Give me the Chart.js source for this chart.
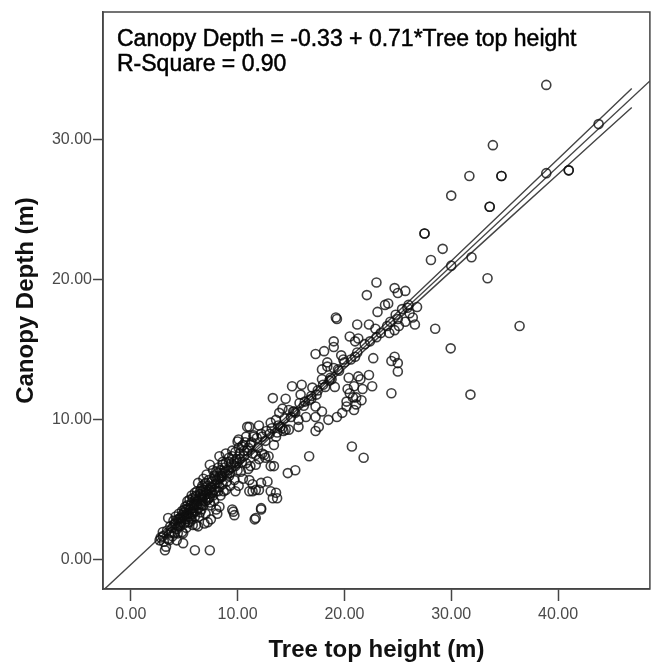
<!DOCTYPE html>
<html>
<head>
<meta charset="utf-8">
<script src="https://cdn.jsdelivr.net/npm/chart.js@4.4.1/dist/chart.umd.min.js"></script>
<style>
  html, body { margin: 0; padding: 0; background: #fff; overflow: hidden; }
  #wrap { width: 656px; height: 668px; position: relative; }
</style>
</head>
<body>
<div id="wrap"><canvas id="myChart"></canvas></div>
<script>
// tree top height (m), one entry per tree
const treeTopHeight = [
  2.7, 2.8, 3.0, 3.0, 3.2, 3.3, 3.1, 3.4, 3.5, 3.6,
  3.6, 3.7, 3.8, 3.9, 3.9, 4.0, 4.1, 4.1, 4.2, 4.3,
  4.3, 4.4, 4.4, 4.5, 4.5, 4.6, 4.6, 4.7, 4.8, 4.8,
  4.9, 4.9, 4.9, 5.0, 5.0, 3.5,
  5.1, 5.1, 5.2, 5.2, 5.3, 5.3, 5.4, 5.4, 5.5, 5.5,
  5.5, 5.6, 5.6, 5.7, 5.7, 5.8, 5.8, 5.9, 5.9, 6.0,
  6.0, 6.0, 6.1, 6.1, 6.1, 6.2, 6.2, 6.3, 6.3, 6.4,
  6.4, 6.5, 6.5, 6.6, 6.6, 6.7, 6.7, 6.8, 6.8, 6.9,
  6.9, 7.0, 7.0, 7.0,
  7.1, 7.1, 7.2, 7.2, 7.3, 7.4, 7.4, 7.4, 7.5, 7.5,
  7.5, 7.6, 7.6, 7.7, 7.8, 7.8, 7.9, 8.0, 8.0, 8.0,
  8.1, 8.1, 8.2, 8.3, 8.3, 8.3, 8.4, 8.5, 8.6, 8.6,
  8.6, 8.7, 8.8, 8.9, 8.9, 9.0, 9.0,
  9.2, 9.2, 9.3, 9.4, 9.5, 9.5, 9.6, 9.7, 9.7, 9.8,
  9.8, 9.9, 10.0, 10.0, 10.1, 10.1, 10.2, 10.3, 10.4, 10.5,
  10.5, 10.6, 10.8, 10.8, 10.9, 10.9, 11.0, 11.1, 11.1, 11.1,
  11.2, 11.2, 11.4, 11.4, 11.4, 11.5, 11.5, 11.6, 11.7, 11.7,
  11.7, 11.7, 11.9, 12.0, 12.0, 12.0, 12.2, 12.2, 12.2, 12.3,
  12.3, 12.5, 12.6, 12.6, 12.8, 12.9, 13.0, 13.1, 13.1, 13.1,
  13.2, 13.3, 13.3, 13.4, 13.4, 13.6, 13.6, 13.6, 13.7, 13.7,
  13.9, 14.0, 14.2, 14.2, 14.3, 14.5, 14.5, 14.7, 14.8, 14.8,
  15.0,
  15.1, 15.2, 15.4, 15.4, 15.7, 15.7, 15.9, 16.0, 16.2, 16.4,
  16.7, 16.7, 16.9, 17.0,
  17.3, 17.3, 17.3, 17.3, 17.4, 17.6, 17.9, 17.9, 17.9, 18.1,
  18.2, 18.4, 18.4, 18.5, 18.6, 18.8, 19.0, 19.0, 19.0, 19.1,
  19.2, 19.3, 19.3, 19.5, 19.7, 19.8, 19.9, 20.2, 20.3, 20.4,
  20.5, 20.5, 20.7, 20.8, 20.9, 20.9, 21.0, 21.0,
  21.2, 21.3, 21.3, 21.5, 21.6, 21.7, 21.8, 22.1, 22.3, 22.3,
  22.6, 22.7, 22.9,
  23.0, 23.0, 23.1, 23.8, 24.0, 24.1, 24.2, 24.4, 24.4, 24.7,
  24.7, 24.7, 25.0, 25.0, 25.0, 25.0, 25.1, 25.7, 25.7, 25.9,
  26.1, 26.4, 26.6, 26.8, 27.5, 27.5, 28.1, 28.5, 29.2, 29.95,
  30.0, 30.0, 31.7, 31.8, 31.9, 33.4, 33.6, 33.6, 33.9, 34.7,
  34.7, 36.4, 38.9, 38.9, 41.0, 41.0, 43.8,
  5.2, 5.6, 5.9, 6.2, 6.4, 6.6, 6.9, 7.1, 7.3, 7.6,
  7.9, 8.2, 8.5, 8.8, 9.1, 9.4, 9.7, 10.2, 10.6, 11.0,
  11.3, 11.8, 12.2, 12.7, 4.2, 4.7, 5.0, 5.4, 5.8, 6.1,
  6.3, 6.8, 7.2, 7.7, 8.0, 8.4, 9.3, 9.9, 6.5, 5.7,
  15.3, 15.8, 16.3, 16.9, 17.5, 18.0, 18.7, 19.4, 20.0, 20.6,
  21.2, 21.9, 22.4, 23.4, 24.3, 24.8, 25.4, 26.0, 13.8, 14.4,
  21.1, 20.2, 21.1,
  4.4, 4.6, 4.8, 5.0, 5.3, 5.5, 5.7, 6.0, 6.2, 6.5,
  6.7, 7.0, 7.3, 7.5, 7.8, 8.1, 8.3, 8.6, 8.9, 9.2,
  9.5, 9.8, 10.1, 10.4, 10.7, 5.1, 5.9, 6.6, 7.4, 8.2
];

// canopy depth (m), same order as treeTopHeight
const canopyDepth = [
  1.4, 1.6, 1.7, 2.0, 0.7, 0.95, 1.3, 2.1, 1.5, 1.9,
  1.4, 2.4, 2.0, 2.3, 1.7, 2.8, 2.6, 1.9, 3.1, 1.4,
  2.2, 1.9, 2.4, 2.9, 3.3, 2.4, 3.0, 2.7, 3.5, 2.0,
  1.2, 1.9, 3.1, 2.6, 3.4, 3.0,
  2.9, 3.8, 3.6, 2.3, 3.1, 4.2, 3.3, 2.7, 4.3, 3.6,
  2.7, 3.0, 3.9, 4.6, 3.4, 3.3, 2.5, 4.0, 3.7, 0.7,
  4.8, 3.1, 4.5, 3.5, 2.5, 4.2, 3.9, 5.5, 2.4, 3.1,
  4.4, 4.0, 4.9, 3.6, 5.1, 4.3, 4.6, 3.9, 5.8, 5.4,
  2.6, 4.2, 3.3, 5.0,
  4.7, 6.1, 2.7, 5.3, 4.4, 0.7, 4.5, 6.8, 5.2, 2.9,
  3.9, 5.6, 4.8, 6.4, 5.0, 4.2, 5.9, 3.6, 6.3, 4.9,
  3.3, 5.5, 6.6, 7.4, 5.2, 3.8, 4.6, 6.0, 7.0, 6.2,
  5.4, 4.9, 6.6, 5.0, 7.6, 6.1, 5.6,
  7.0, 6.0, 5.3, 6.6, 3.6, 7.8, 3.45, 3.2, 5.7, 6.7,
  4.9, 7.2, 8.45, 6.4, 8.6, 5.3, 7.6, 6.3, 7.0, 8.2,
  5.8, 7.4, 8.8, 6.9, 9.5, 7.8, 6.5, 5.7, 4.9, 9.5,
  6.7, 8.2, 5.4, 4.9, 7.6, 8.9, 8.8, 2.9, 3.0, 5.0,
  6.8, 7.5, 8.0, 9.6, 5.0, 7.2, 3.7, 5.5, 3.6, 8.8,
  7.6, 7.5, 7.3, 8.5, 5.6, 7.4, 9.0, 9.8, 6.7, 4.9,
  9.4, 11.55, 4.4, 8.2, 6.7, 4.8, 8.8, 10.0, 4.4, 9.1,
  10.5, 9.5, 10.8, 9.4, 9.2, 11.5, 9.3, 6.2, 9.3, 10.7,
  10.2,
  12.4, 10.6, 6.4, 10.5, 10.0, 9.5, 11.8, 12.5, 11.0, 10.2,
  11.4, 7.4, 11.7, 12.3,
  14.7, 10.95, 10.2, 9.2, 11.8, 9.5, 13.6, 12.9, 10.6, 14.9,
  12.35, 14.1, 13.8, 10.0, 12.8, 12.9, 15.6, 15.2, 13.7, 12.35,
  17.3, 17.2, 10.2, 13.5, 14.6, 10.5, 14.3, 10.95, 12.2, 13.0,
  15.95, 11.9, 8.1, 11.6, 12.4, 10.7, 15.6, 14.5,
  16.8, 15.8, 13.1, 12.9, 11.4, 12.2, 7.3, 18.9, 16.8, 13.2,
  12.4, 14.4, 16.5,
  19.8, 15.9, 17.7, 18.2, 16.7, 18.3, 16.2, 14.2, 11.9, 19.4,
  14.5, 16.4, 19.05, 17.2, 14.05, 13.45, 16.7, 19.2, 17.0, 18.0,
  17.6, 17.3, 16.8, 18.05, 23.3, 23.3, 21.4, 16.5, 22.2, 15.1,
  26.0, 21.0, 27.4, 11.8, 21.6, 20.1, 25.2, 25.2, 29.6, 27.4,
  27.4, 16.7, 27.6, 33.9, 27.8, 27.8, 31.1,
  3.3, 3.6, 3.9, 4.0, 4.2, 4.4, 4.6, 4.9, 5.0, 5.2,
  5.4, 5.8, 5.9, 6.3, 6.4, 6.9, 7.0, 7.2, 7.8, 8.0,
  8.4, 8.7, 9.0, 9.2, 2.6, 3.0, 3.0, 3.7, 4.4, 4.6,
  3.7, 5.0, 4.3, 4.6, 5.7, 6.4, 6.2, 6.9, 3.4, 2.9,
  10.6, 11.2, 11.3, 11.5, 12.1, 12.5, 13.0, 13.6, 14.1, 14.3,
  14.8, 15.4, 15.6, 16.2, 17.0, 17.5, 17.9, 18.2, 9.6, 10.1,
  11.6, 11.3, 11.1,
  2.9, 2.6, 3.2, 3.6, 3.9, 3.1, 4.1, 4.3, 4.9, 4.7,
  5.3, 5.5, 5.7, 4.9, 6.0, 6.2, 5.9, 6.8, 6.9, 7.3,
  7.4, 7.7, 8.0, 8.1, 8.4, 2.7, 3.4, 3.9, 4.1, 4.9
];

// fitted line, as printed on the chart
const intercept = -0.33;
const slope = 0.71;
const fitLabel = ['Canopy Depth = -0.33 + 0.71*Tree top height', 'R-Square = 0.90'];

// 95% band for the mean
const bandX     = [2.4, 8, 13, 20, 30, 40, 46.9];
const bandUpper = [1.62, 5.55, 9.09, 14.09, 21.33, 28.61, 33.65];
const bandLower = [1.12, 5.15, 8.71, 13.65, 20.61, 27.53, 32.29];

const xTicks = [0, 10, 20, 30, 40];
const yTicks = [0, 10, 20, 30];
const xMin = -2.6, xMax = 48.6;
const yMin = -2.07, yMax = 39.1;

const FONT = "'Liberation Sans', Arial, sans-serif";
const AXIS = '#454545';

const points = treeTopHeight.map((x, i) => ({ x: x, y: canopyDepth[i] }));
const fitLine = [xMin, xMax].map(x => ({ x: x, y: intercept + slope * x }));
const upper = bandX.map((x, i) => ({ x: x, y: bandUpper[i] }));
const lower = bandX.map((x, i) => ({ x: x, y: bandLower[i] }));

const lineStyle = {
  type: 'line',
  borderColor: '#444',
  borderWidth: 1.4,
  pointRadius: 0,
  fill: false,
  tension: 0.3
};

// box around the plot plus the equation text
const frame = {
  id: 'frame',
  afterDraw(chart) {
    const { ctx, chartArea: a } = chart;
    ctx.save();
    ctx.strokeStyle = AXIS;
    ctx.lineWidth = 1.5;
    ctx.strokeRect(a.left, a.top, a.right - a.left, a.bottom - a.top);
    ctx.fillStyle = '#000';
    ctx.strokeStyle = '#000';
    ctx.lineWidth = 0.5;
    ctx.font = '23px ' + FONT;
    ctx.textAlign = 'left';
    ctx.textBaseline = 'alphabetic';
    fitLabel.forEach((t, i) => {
      ctx.fillText(t, 117, 46 + i * 25);
      ctx.strokeText(t, 117, 46 + i * 25);
    });
    ctx.restore();
  }
};

const ctx = document.getElementById('myChart').getContext('2d');

const chart = new Chart(ctx, {
  type: 'scatter',
  data: {
    datasets: [
      {
        data: points,
        pointStyle: 'circle',
        pointRadius: 4.5,
        borderWidth: 1.6,
        borderColor: 'rgba(15,15,15,0.8)',
        backgroundColor: 'rgba(0,0,0,0)'
      },
      Object.assign({ data: fitLine }, lineStyle, { tension: 0 }),
      Object.assign({ data: upper }, lineStyle),
      Object.assign({ data: lower }, lineStyle)
    ]
  },
  options: {
    responsive: true,
    maintainAspectRatio: false,
    animation: false,
    layout: { padding: { top: 12, right: 0, bottom: 0, left: 0 } },
    plugins: {
      legend: { display: false },
      tooltip: { enabled: false }
    },
    scales: {
      x: {
        type: 'linear',
        min: xMin,
        max: xMax,
        afterBuildTicks: s => { s.ticks = xTicks.map(v => ({ value: v })); },
        afterFit: s => { s.height = 79; },
        grid: { drawOnChartArea: false, drawTicks: true, tickLength: 12, tickColor: AXIS, tickWidth: 1.5 },
        border: { display: true, color: AXIS, width: 1.5 },
        ticks: {
          padding: 4,
          color: '#4a4a4a',
          font: { family: FONT, size: 16 },
          callback: v => v.toFixed(2)
        },
        title: {
          display: true,
          text: 'Tree top height (m)',
          color: '#111',
          font: { family: FONT, size: 24, weight: 'bold' },
          padding: { top: 0, bottom: 3 }
        }
      },
      y: {
        type: 'linear',
        min: yMin,
        max: yMax,
        afterBuildTicks: s => { s.ticks = yTicks.map(v => ({ value: v })); },
        afterFit: s => { s.width = 103; },
        grid: { drawOnChartArea: false, drawTicks: true, tickLength: 10, tickColor: AXIS, tickWidth: 1.5 },
        border: { display: true, color: AXIS, width: 1.5 },
        ticks: {
          padding: 1,
          color: '#4a4a4a',
          font: { family: FONT, size: 16 },
          callback: v => v.toFixed(2)
        },
        title: {
          display: true,
          text: 'Canopy Depth (m)',
          color: '#111',
          font: { family: FONT, size: 24, weight: 'bold' },
          padding: { top: 12, bottom: 0 }
        }
      }
    }
  },
  plugins: [frame]
});
</script>
</body>
</html>
